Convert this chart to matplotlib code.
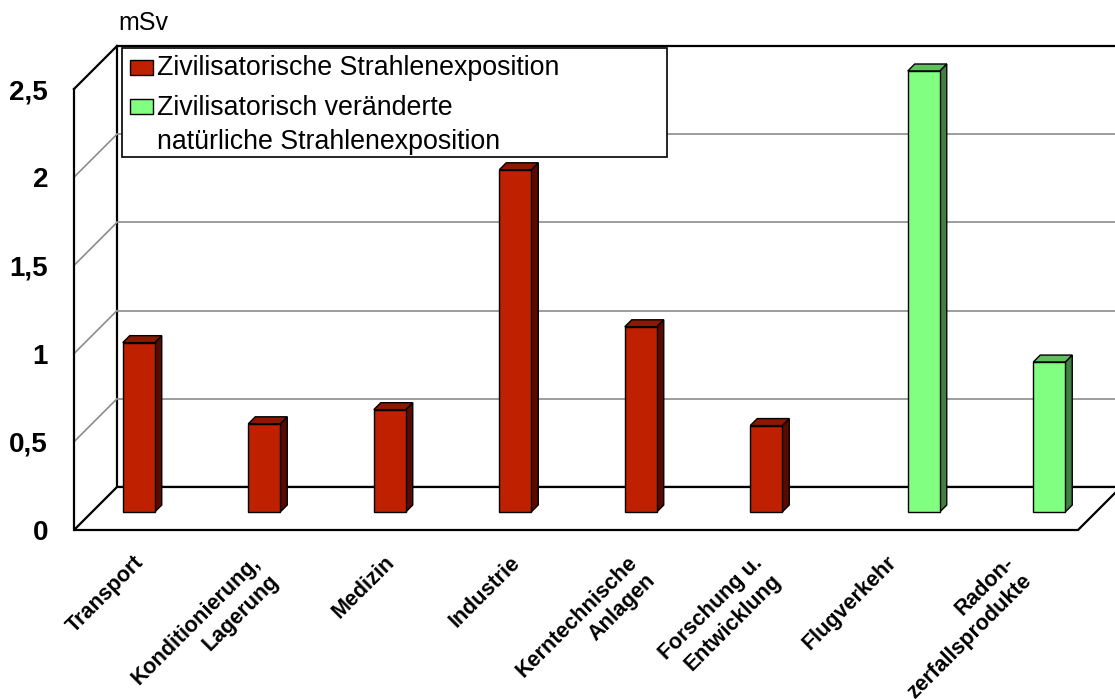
import numpy as np
import matplotlib
matplotlib.use("Agg")
import matplotlib.pyplot as plt
from matplotlib.patches import Rectangle, Polygon
from matplotlib.transforms import offset_copy

# ---------------- data ----------------
categories = ["Transport", "Konditionierung,\nLagerung", "Medizin", "Industrie",
              "Kerntechnische\nAnlagen", "Forschung u.\nEntwicklung", "Flugverkehr",
              "Radon-\nzerfallsprodukte"]
series_names = ["Zivilisatorische Strahlenexposition",
                "Zivilisatorisch veränderte\nnatürliche Strahlenexposition"]
zivilisatorisch = [0.96, 0.50, 0.58, 1.94, 1.05, 0.49, np.nan, np.nan]
natuerlich = [np.nan, np.nan, np.nan, np.nan, np.nan, np.nan, 2.50, 0.85]
y_ticks = [0, 0.5, 1, 1.5, 2, 2.5]
y_tick_labels = ["0", "0,5", "1", "1,5", "2", "2,5"]
y_unit = "mSv"

# colours: front, top, side
red_cols = ("#BF2000", "#8C1800", "#5A0A00")
green_cols = ("#80FF80", "#5FBF5F", "#408040")

plt.rcParams['font.family'] = ['Liberation Sans', 'DejaVu Sans']

W, H = 1115, 699
fig = plt.figure(figsize=(W / 100, H / 100), dpi=100)

# front plane of the pseudo-3D box (pixels)
left_px, right_px, bottom_px, top_px = 74, 1078, 530, 89
ax = fig.add_axes([left_px / W, 1 - bottom_px / H,
                   (right_px - left_px) / W, (bottom_px - top_px) / H])
ncat = len(categories)
ymax = y_ticks[-1]
ax.set_xlim(0, ncat)
ax.set_ylim(0, ymax)
ax.axis('off')

depth_px = 43
DX = depth_px / ((right_px - left_px) / ncat)
DY = depth_px / ((bottom_px - top_px) / ymax)

frame_lw = 1.6
grid_col = "#8C8C8C"

# back wall
ax.add_patch(Rectangle((DX, DY), ncat, ymax, facecolor="white", edgecolor="black",
                       lw=frame_lw, clip_on=False, zorder=1))
# floor
ax.add_patch(Polygon([(0, 0), (ncat, 0), (ncat + DX, DY), (DX, DY)], closed=True,
                     facecolor="white", edgecolor="black", lw=frame_lw,
                     clip_on=False, zorder=1.5))
# left side edges
ax.plot([0, 0], [0, ymax], color="black", lw=frame_lw, clip_on=False, zorder=2)
ax.plot([0, DX], [ymax, ymax + DY], color="black", lw=frame_lw, clip_on=False, zorder=2)
# gridlines on back wall and side wall
for t in y_ticks[1:-1]:
    ax.plot([DX, ncat + DX], [t + DY, t + DY], color=grid_col, lw=1.2,
            clip_on=False, zorder=1.8)
    ax.plot([0, DX], [t, t + DY], color=grid_col, lw=1.2, clip_on=False, zorder=1.8)

# bars
bw = 32 / ((right_px - left_px) / ncat)
d0 = 18 / depth_px
bd = 7 / depth_px
sx, sy = d0 * DX, d0 * DY
bdx, bdy = bd * DX, bd * DY


def draw_bar(x0, v, cols):
    front, top, side = cols
    xa = x0 + sx
    xb = xa + bw
    ax.add_patch(Polygon([(xb, sy), (xb + bdx, sy + bdy), (xb + bdx, sy + v + bdy), (xb, sy + v)],
                         closed=True, facecolor=side, edgecolor="black", lw=1.0,
                         clip_on=False, zorder=3))
    ax.add_patch(Polygon([(xa, sy + v), (xb, sy + v), (xb + bdx, sy + v + bdy), (xa + bdx, sy + v + bdy)],
                         closed=True, facecolor=top, edgecolor="black", lw=1.0,
                         clip_on=False, zorder=3))
    ax.add_patch(Rectangle((xa, sy), bw, v, facecolor=front, edgecolor="black", lw=1.0,
                           clip_on=False, zorder=3.1))


for i, v in enumerate(zivilisatorisch):
    if not np.isnan(v):
        draw_bar(i + 0.5 - bw, v, red_cols)
for i, v in enumerate(natuerlich):
    if not np.isnan(v):
        draw_bar(i + 0.5, v, green_cols)

# category labels (multi-line labels sit a little further left)
for i, lab in enumerate(categories):
    nlines = lab.count("\n") + 1
    lab_tr = offset_copy(ax.transData, fig=fig, x=-4 - 8 * (nlines - 1), y=-22,
                         units='dots')
    ax.text(i + 0.5, 0, lab, transform=lab_tr, rotation=45, rotation_mode='anchor',
            ha='right', va='top', multialignment='right', linespacing=1.3,
            fontsize=15.5, fontweight='bold', clip_on=False)

# y tick labels
tick_tr = offset_copy(ax.transData, fig=fig, x=-26, y=-3, units='dots')
for t, lab in zip(y_ticks, y_tick_labels):
    ax.text(0, t, lab, transform=tick_tr, ha='right', va='center', fontsize=20,
            fontweight='bold', clip_on=False)

# unit label
fig.text(118 / W, 1 - 30 / H, y_unit, fontsize=18, ha='left', va='baseline')


# legend (drawn manually)
def fx(x):
    return x / W


def fy(y):
    return 1 - y / H


fig.add_artist(Rectangle((fx(122), fy(157)), (667 - 122) / W, (157 - 48) / H,
                         transform=fig.transFigure, facecolor="white",
                         edgecolor="black", lw=1.2, zorder=5))
fig.add_artist(Rectangle((fx(130), fy(75)), 23 / W, 15 / H, transform=fig.transFigure,
                         facecolor=red_cols[0], edgecolor="black", lw=1.0, zorder=6))
fig.add_artist(Rectangle((fx(130), fy(114)), 23 / W, 15 / H, transform=fig.transFigure,
                         facecolor=green_cols[0], edgecolor="black", lw=1.0, zorder=6))
fig.text(fx(157), fy(68), series_names[0], fontsize=19.3, ha='left', va='center', zorder=7)
fig.text(fx(157), fy(125), series_names[1], fontsize=19.3, ha='left', va='center',
         linespacing=1.42, zorder=7)

fig.savefig("out.png", dpi=100)
